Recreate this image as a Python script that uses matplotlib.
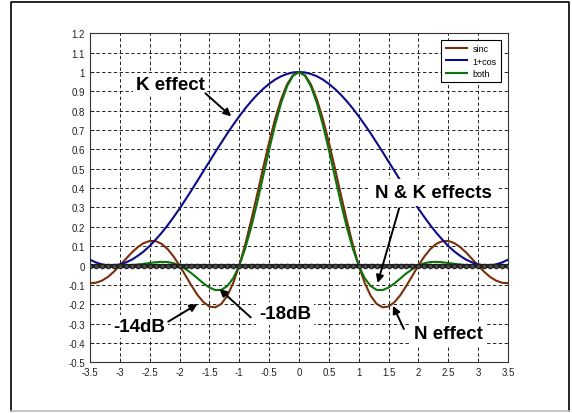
import matplotlib
matplotlib.use("Agg")
import matplotlib.pyplot as plt
from matplotlib.lines import Line2D
import numpy as np

plt.rcParams['font.family'] = ['Liberation Sans', 'DejaVu Sans']

# sample positions (x from -3.5 to 3.5, step 0.1)
x = np.linspace(-3.5, 3.5, 71)

# values
sinc = [-0.091, -0.089, -0.078, -0.059, -0.032, 0.000, 0.034, 0.067, 0.095, 0.116,
        0.127, 0.126, 0.112, 0.085, 0.047, 0.000, -0.052, -0.104, -0.152, -0.189,
        -0.212, -0.216, -0.198, -0.156, -0.089, 0.000, 0.109, 0.234, 0.368, 0.505,
        0.637, 0.757, 0.858, 0.936, 0.984,
        1.000,
        0.984, 0.936, 0.858, 0.757, 0.637, 0.505, 0.368, 0.234, 0.109, 0.000,
        -0.089, -0.156, -0.198, -0.216, -0.212, -0.189, -0.152, -0.104, -0.052, 0.000,
        0.047, 0.085, 0.112, 0.126, 0.127, 0.116, 0.095, 0.067, 0.034, 0.000,
        -0.032, -0.059, -0.078, -0.089, -0.091]

one_cos = [0.030, 0.016, 0.006, 0.001, 0.001, 0.006, 0.016, 0.030, 0.050, 0.073,
           0.101, 0.134, 0.169, 0.208, 0.250, 0.294, 0.341, 0.389, 0.438, 0.488,
           0.537, 0.587, 0.635, 0.683, 0.728, 0.771, 0.812, 0.849, 0.883, 0.913,
           0.939, 0.961, 0.978, 0.990, 0.998,
           1.000,
           0.998, 0.990, 0.978, 0.961, 0.939, 0.913, 0.883, 0.849, 0.812, 0.771,
           0.728, 0.683, 0.635, 0.587, 0.537, 0.488, 0.438, 0.389, 0.341, 0.294,
           0.250, 0.208, 0.169, 0.134, 0.101, 0.073, 0.050, 0.030, 0.016, 0.006,
           0.001, 0.001, 0.006, 0.016, 0.030]

both = [-0.003, -0.001, 0.000, 0.000, 0.000, 0.000, 0.001, 0.002, 0.005, 0.009,
        0.013, 0.017, 0.019, 0.018, 0.012, 0.000, -0.018, -0.040, -0.066, -0.092,
        -0.114, -0.127, -0.126, -0.106, -0.065, 0.000, 0.089, 0.199, 0.325, 0.461,
        0.598, 0.727, 0.839, 0.926, 0.981,
        1.000,
        0.981, 0.926, 0.839, 0.727, 0.598, 0.461, 0.325, 0.199, 0.089, 0.000,
        -0.065, -0.106, -0.126, -0.127, -0.114, -0.092, -0.066, -0.040, -0.018, 0.000,
        0.012, 0.018, 0.019, 0.017, 0.013, 0.009, 0.005, 0.002, 0.001, 0.000,
        0.000, 0.000, 0.000, -0.001, -0.003]

baseline = [0.0] * 71

xticks = [-3.5, -3, -2.5, -2, -1.5, -1, -0.5, 0, 0.5, 1, 1.5, 2, 2.5, 3, 3.5]
yticks = [-0.5, -0.4, -0.3, -0.2, -0.1, 0, 0.1, 0.2, 0.3, 0.4, 0.5, 0.6, 0.7,
          0.8, 0.9, 1, 1.1, 1.2]

fig = plt.figure(figsize=(5.72, 4.14), dpi=100)
ax = fig.add_axes([0.1573, 0.1225, 0.7308, 0.7946])

ax.plot(x, sinc, color='#7a2e0c', lw=1.5, label='sinc', zorder=3)
ax.plot(x, one_cos, color='#0c0c8a', lw=1.5, label='1+cos', zorder=3)
ax.plot(x, both, color='#0b740b', lw=1.5, label='both', zorder=4)
ax.plot(x, baseline, color='#2a2a2a', lw=3.0, zorder=5)
ax.plot(x, baseline, ls='none', marker='o', ms=3.4, mfc='#4a4a4a',
        mec='#111111', mew=0.6, zorder=6)

ax.set_xlim(-3.5, 3.5)
ax.set_ylim(-0.5, 1.2)
ax.set_xticks(xticks)
ax.set_yticks(yticks)
ax.set_xticklabels(['%g' % t for t in xticks])
ax.set_yticklabels(['%g' % t for t in yticks])
ax.tick_params(direction='in', length=3, labelsize=7, colors='#222222',
               width=0.6)
ax.grid(True, color='black', ls=(0, (4, 3)), lw=0.6)
for s in ax.spines.values():
    s.set_color('#333333')
    s.set_linewidth(0.8)

leg = ax.legend(loc='upper right', bbox_to_anchor=(0.984, 0.98),
                borderaxespad=0, fontsize=6.5, fancybox=False,
                handlelength=2.4, labelspacing=0.35, borderpad=0.5,
                handletextpad=0.6)
leg.get_frame().set_edgecolor('black')
leg.get_frame().set_linewidth(0.8)
leg.get_frame().set_alpha(1)

box = dict(facecolor='white', edgecolor='none', pad=2.0)
arrow = dict(arrowstyle='-|>', color='black', lw=1.4, mutation_scale=11,
             shrinkA=0, shrinkB=0)
fs = 13.5

ax.text(-2.16, 0.938, 'K effect', fontsize=fs, fontweight='bold',
        ha='center', va='center', bbox=box, zorder=8)
ax.annotate('', xy=(-1.135, 0.771), xytext=(-1.567, 0.89),
            arrowprops=arrow, zorder=8)

ax.text(2.25, 0.378, 'N & K effects', fontsize=fs, fontweight='bold',
        ha='center', va='center', bbox=dict(facecolor='white',
        edgecolor='none', pad=3.5), zorder=8)
ax.annotate('', xy=(1.317, -0.09), xytext=(1.677, 0.296),
            arrowprops=arrow, zorder=8)

ax.text(-2.67, -0.316, '-14dB', fontsize=fs, fontweight='bold',
        ha='center', va='center', bbox=box, zorder=8)
ax.annotate('', xy=(-1.70, -0.199), xytext=(-2.19, -0.29),
            arrowprops=arrow, zorder=8)

ax.text(-0.23, -0.247, '-18dB', fontsize=fs, fontweight='bold',
        ha='center', va='center', bbox=box, zorder=8)
ax.annotate('', xy=(-1.333, -0.121), xytext=(-0.808, -0.268),
            arrowprops=arrow, zorder=8)

ax.text(2.5, -0.35, 'N effect', fontsize=fs, fontweight='bold',
        ha='center', va='center', bbox=box, zorder=8)
ax.annotate('', xy=(1.574, -0.208), xytext=(1.757, -0.328),
            arrowprops=arrow, zorder=8)

# outer frame
x0, x1 = 11 / 572, 569 / 572
y0, y1 = 1 - 412 / 414, 1 - 3 / 414
fig.add_artist(Line2D([x0, x0, x1, x1], [y0, y1, y1, y0],
                      transform=fig.transFigure, color='black', lw=1.2))
fig.add_artist(Line2D([x0, x1], [y0, y0], transform=fig.transFigure,
                      color='#bbbbbb', lw=1.2))

fig.savefig('out.png', dpi=100)
